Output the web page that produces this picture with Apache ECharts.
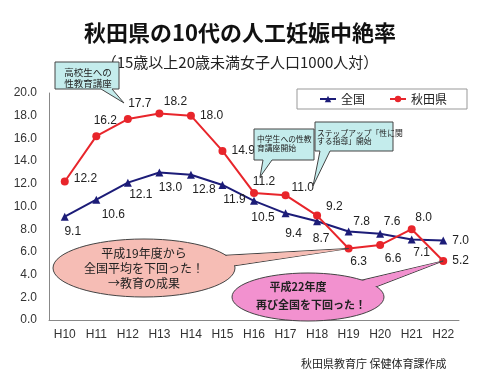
<!DOCTYPE html>
<html><head><meta charset="utf-8">
<script src="https://cdn.jsdelivr.net/npm/echarts@6/dist/echarts.min.js"></script>
<style>html,body{margin:0;padding:0;background:#fff}#c{width:480px;height:382px}</style>
</head><body><div id="c"></div>
<script>
const categories = ['H10','H11','H12','H13','H14','H15','H16','H17','H18','H19','H20','H21','H22'];
const national = [9.1, 10.6, 12.1, 13.0, 12.8, 11.9, 10.5, 9.4, 8.7, 7.8, 7.6, 7.1, 7.0];
const akita = [12.2, 16.2, 17.7, 18.2, 18.0, 14.9, 11.2, 11.0, 9.2, 6.3, 6.6, 8.0, 5.2];
const yTicks = [0, 2, 4, 6, 8, 10, 12, 14, 16, 18, 20];

// label placement (position, offset) per point
const natLabelPos = [
  ['bottom',[8,0]],['bottom',[17,0]],['bottom',[13,-3]],['bottom',[11,0]],['bottom',[13,0]],['bottom',[12,0]],
  ['bottom',[9,2]],['bottom',[8,5]],['bottom',[4,2]],['top',[13,5]],['top',[12,3]],['bottom',[10,-2]],['right',[0,0]]
];
const akitaLabelPos = [
  ['right',[0,-3]],['top',[9,0]],['top',[12,0]],['top',[16,3]],['right',[0,0]],['right',[0,0]],
  ['top',[10,4]],['right',[-3,-7]],['right',[0,-9]],['bottom',[10,-2]],['bottom',[13,-1]],['top',[12,3]],['right',[0,0]]
];

const FF = "'Liberation Sans','Noto Sans CJK JP',sans-serif";
const JF = "'Noto Sans CJK JP',sans-serif";

function mk(vals, pos) {
  return vals.map((v, i) => ({
    value: v,
    label: { show: true, position: pos[i][0], offset: pos[i][1], formatter: v.toFixed(1) }
  }));
}

const chart = echarts.init(document.getElementById('c'), null, {renderer: 'canvas'});
chart.setOption({
  backgroundColor: '#fff',
  animation: false,
  title: [
    { text: '秋田県の10代の人工妊娠中絶率', left: 'center', top: 17,
      textStyle: { fontSize: 22, fontWeight: 'bold', color: '#111', fontFamily: JF } },
    { text: '（15歳以上20歳未満女子人口1000人対）', left: 'center', top: 50,
      textStyle: { fontSize: 15, fontWeight: 'normal', color: '#222', fontFamily: JF } },
    { text: '秋田県教育庁 保健体育課作成', left: 296, top: 353,
      textStyle: { fontSize: 11, fontWeight: 'normal', color: '#222', fontFamily: JF } }
  ],
  legend: {
    left: 297, top: 89, padding: [4, 20, 4, 22], itemGap: 24,
    borderColor: '#999', borderWidth: 1, itemWidth: 16, itemHeight: 8,
    textStyle: { fontSize: 12, color: '#222', fontFamily: JF },
    data: ['全国', '秋田県']
  },
  grid: { left: 49, right: 21, top: 93, bottom: 62 },
  xAxis: {
    type: 'category', data: categories, boundaryGap: true,
    axisLine: { lineStyle: { color: '#888' } },
    axisTick: { inside: true, length: 4, lineStyle: { color: '#888' } },
    axisLabel: { color: '#333', fontSize: 12, margin: 9, fontFamily: FF }
  },
  yAxis: {
    type: 'value', min: yTicks[0], max: yTicks[yTicks.length - 1], interval: 2,
    axisLine: { show: true, lineStyle: { color: '#888' } },
    axisTick: { show: false },
    splitLine: { show: false },
    axisLabel: { color: '#333', fontSize: 12, margin: 12, fontFamily: FF, formatter: v => v.toFixed(1) }
  },
  series: [
    { name: '全国', type: 'line', data: mk(national, natLabelPos),
      symbol: 'triangle', symbolSize: 8,
      lineStyle: { color: '#1c1c78', width: 2 }, itemStyle: { color: '#1c1c78' },
      label: { color: '#222', fontSize: 12, fontFamily: FF } },
    { name: '秋田県', type: 'line', data: mk(akita, akitaLabelPos),
      symbol: 'circle', symbolSize: 8,
      lineStyle: { color: '#e8252b', width: 2 }, itemStyle: { color: '#e8252b' },
      label: { color: '#222', fontSize: 12, fontFamily: FF } }
  ]
});

const p19 = chart.convertToPixel({seriesIndex: 1}, [9, akita[9]]);
const p22 = chart.convertToPixel({seriesIndex: 1}, [12, akita[12]]);
const stroke = '#444';
const boxFill = '#c4ecec';
const txt = (x, y, t, fs, align, bold) => ({ type: 'text', x: x, y: y, z: 100,
  style: { text: t, fontSize: fs, fill: '#222', fontFamily: JF, align: align, verticalAlign: 'middle', fontWeight: bold ? 'bold' : 'normal' } });

chart.setOption({
  graphic: [
    // box 1
    { type: 'polygon', z: 90, shape: { points: [[55,62],[119,62],[119,89],[112,89],[124,103],[101,89],[55,89]] },
      style: { fill: boxFill, stroke: stroke, lineWidth: 1 } },
    txt(88, 72, '高校生への', 9.5, 'center'),
    txt(88, 83, '性教育講座', 9.5, 'center'),
    // box 2
    { type: 'polygon', z: 90, shape: { points: [[254,129],[314,129],[314,160],[272,160],[260,177],[263,160],[254,160]] },
      style: { fill: boxFill, stroke: stroke, lineWidth: 1 } },
    txt(257, 139, '中学生への性教', 7.8, 'left'),
    txt(257, 148, '育講座開始', 7.8, 'left'),
    // box 3
    { type: 'polygon', z: 91, shape: { points: [[315,122],[393,122],[393,151],[330,151],[313,186],[320,151],[315,151]] },
      style: { fill: boxFill, stroke: stroke, lineWidth: 1 } },
    txt(317, 133, 'ステップアップ「性に関', 7.8, 'left'),
    txt(317, 141, 'する指導」開始', 7.8, 'left'),
    // ellipse 1
    { type: 'polygon', z: 80, shape: { points: [[212,256],[p19[0], p19[1]],[220,268]] },
      style: { fill: '#f6bdb5', stroke: stroke, lineWidth: 1 } },
    { type: 'ellipse', z: 81, shape: { cx: 144, cy: 268, rx: 91, ry: 29 },
      style: { fill: '#f6bdb5', stroke: stroke, lineWidth: 1 } },
    { type: 'polygon', z: 82, shape: { points: [[212.5,256.8],[p19[0]-3, p19[1]+0.5],[220.5,267.3]] },
      style: { fill: '#f6bdb5' } },
    txt(144, 253, '平成19年度から', 12, 'center'),
    txt(144, 268, '全国平均を下回った！', 12, 'center'),
    txt(144, 283, '→教育の成果', 12, 'center'),
    // ellipse 2
    { type: 'polygon', z: 83, shape: { points: [[358,281],[p22[0], p22[1]],[368,290]] },
      style: { fill: '#f291cf', stroke: stroke, lineWidth: 1 } },
    { type: 'ellipse', z: 84, shape: { cx: 308, cy: 297, rx: 76, ry: 24 },
      style: { fill: '#f291cf', stroke: stroke, lineWidth: 1 } },
    { type: 'polygon', z: 85, shape: { points: [[358.5,281.8],[p22[0]-3, p22[1]+0.7],[367.4,289.5]] },
      style: { fill: '#f291cf' } },
    txt(298, 287, '平成22年度', 11, 'center', true),
    txt(311, 305, '再び全国を下回った！', 11, 'center', true)
  ]
});
</script>
</body></html>
